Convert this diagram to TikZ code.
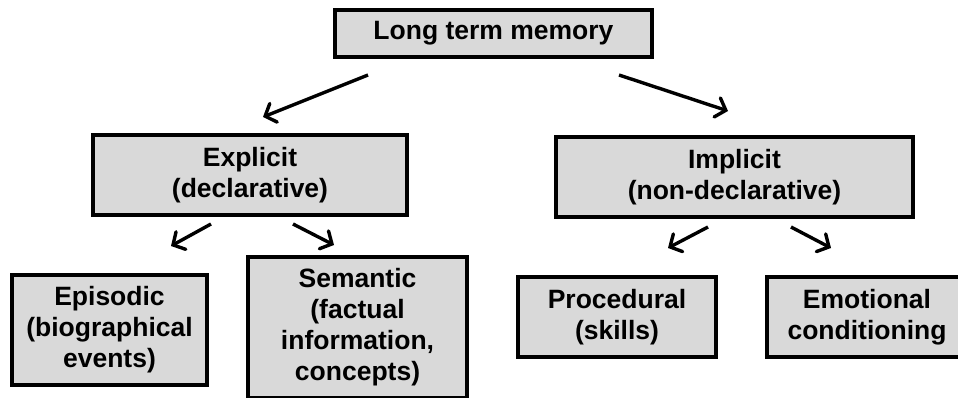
\documentclass[tikz,border=0pt]{standalone}
\usepackage{fontspec}
\setmainfont{Liberation Sans}
\usetikzlibrary{arrows.meta}

\definecolor{boxgray}{HTML}{D9D9D9}
\tikzset{
  memorybox/.style={draw=black, line width=3.4pt, fill=boxgray, inner sep=0pt,
    align=center, font=\fontsize{26.5}{31}\selectfont\bfseries},
  branch/.style={line width=3.4pt, -{Straight Barb[length=9pt, width=20pt, line cap=round]}}
}

\begin{document}
\begin{tikzpicture}[x=1pt, y=-1pt]
  \useasboundingbox (0,0) rectangle (958,398);

  % boxes
  \node[memorybox, minimum width=317pt, minimum height=47pt] (ltm) at (493.5,33.5) {Long term memory};
  \node[memorybox, minimum width=314pt, minimum height=80pt] (explicit) at (250,175) {Explicit\\(declarative)};
  \node[memorybox, minimum width=357pt, minimum height=80pt] (implicit) at (734.5,177) {Implicit\\(non-declarative)};
  \node[memorybox, minimum width=195pt, minimum height=110pt] (episodic) at (109.5,330) {Episodic\\(biographical\\events)};
  \node[memorybox, minimum width=219pt, minimum height=141pt] (semantic) at (357.5,327.5) {Semantic\\(factual\\information,\\concepts)};
  \node[memorybox, minimum width=198pt, minimum height=80pt] (procedural) at (617,317) {Procedural\\(skills)};
  \node[memorybox, minimum width=200pt, minimum height=80pt] (emotional) at (867,317) {Emotional\\conditioning};

  % arrow end points between the levels
  \coordinate (ltmL) at (368,75);   \coordinate (expT) at (263,117);
  \coordinate (ltmR) at (619,75);   \coordinate (impT) at (728,111);
  \coordinate (expL) at (211,224);  \coordinate (epiT) at (171,246);
  \coordinate (expR) at (293,224);  \coordinate (semT) at (334,245);
  \coordinate (impL) at (708,227);  \coordinate (proT) at (668,248);
  \coordinate (impR) at (791,227);  \coordinate (emoT) at (831,248);

  % connectors
  \draw[branch] (ltmL) -- (expT);
  \draw[branch] (ltmR) -- (impT);
  \draw[branch] (expL) -- (epiT);
  \draw[branch] (expR) -- (semT);
  \draw[branch] (impL) -- (proT);
  \draw[branch] (impR) -- (emoT);
\end{tikzpicture}
\end{document}
